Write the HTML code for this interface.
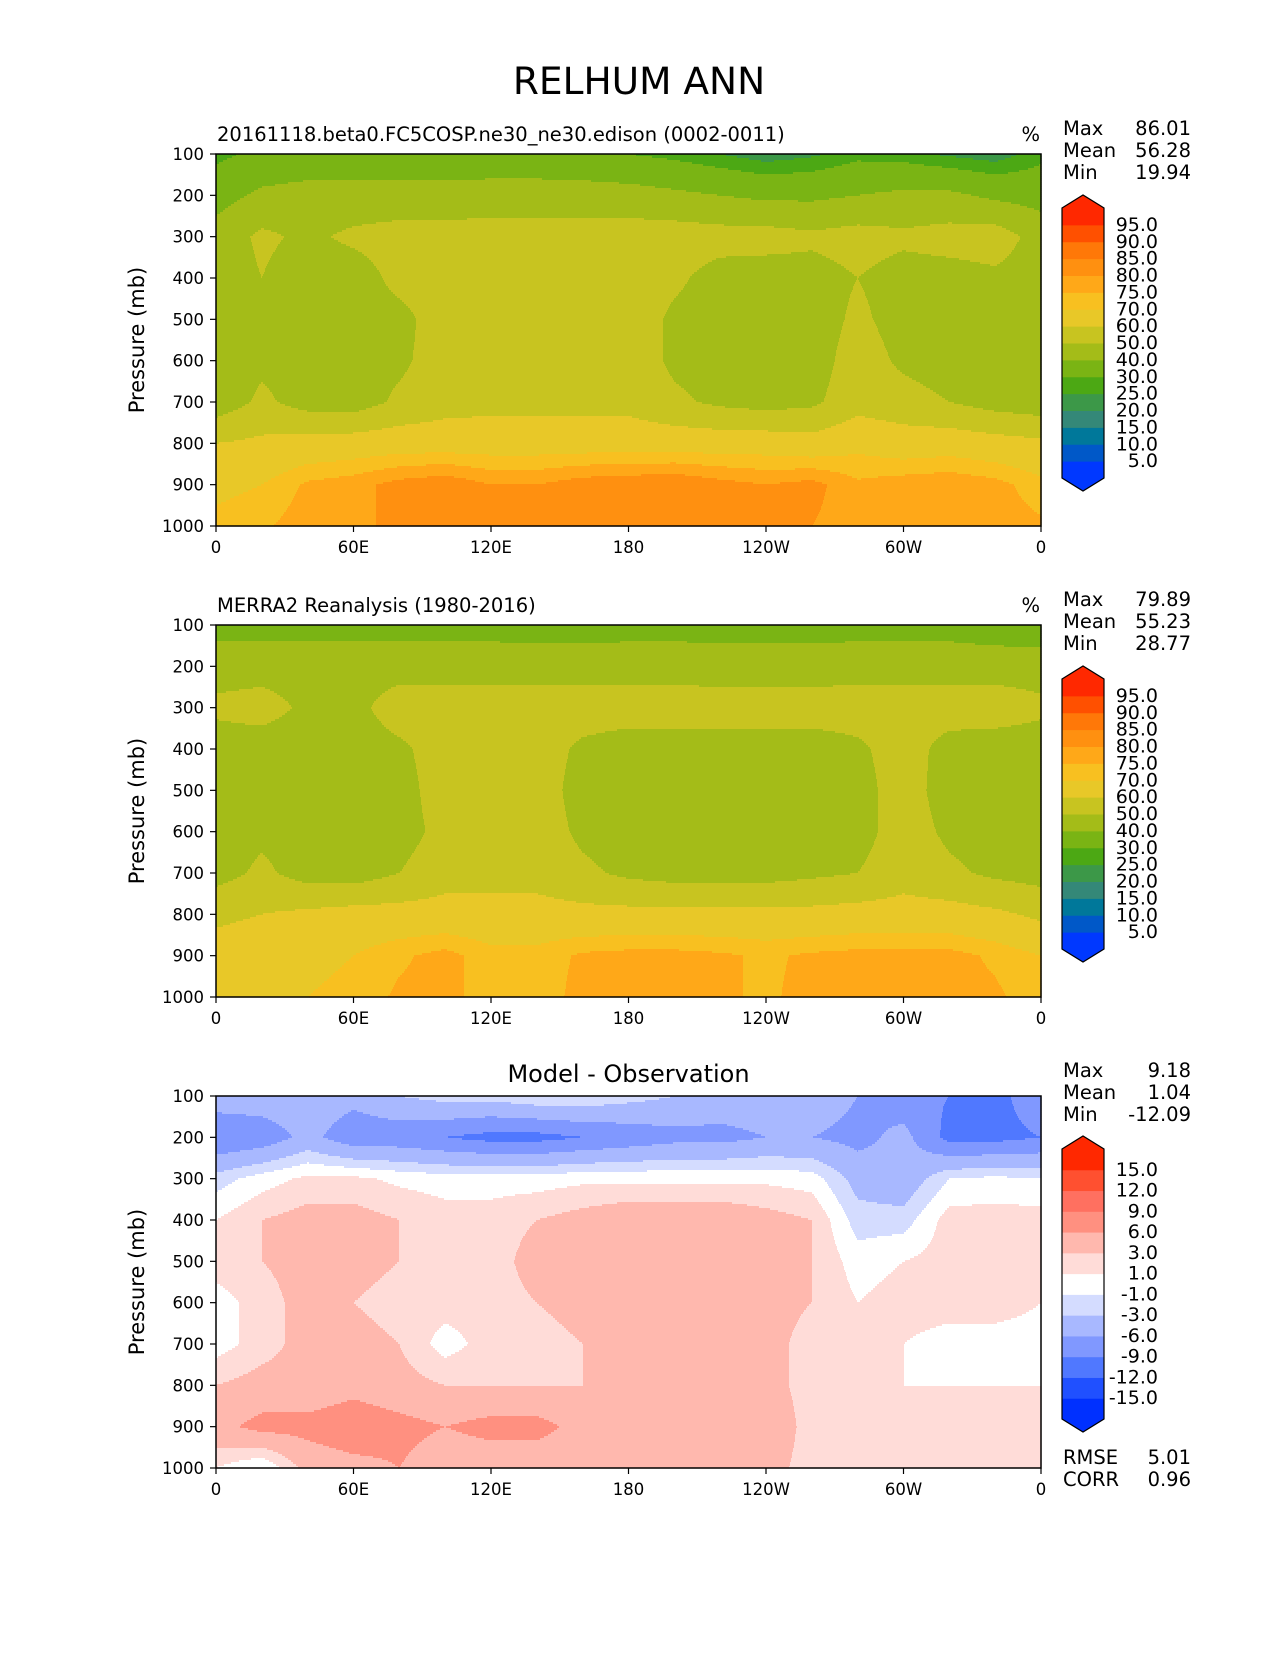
<!DOCTYPE html>
<html><head><meta charset="utf-8"><style>
body{margin:0;background:#fff;}
svg text{font-family:"DejaVu Sans","Liberation Sans",sans-serif;fill:#000;}
</style></head><body>
<svg id="fig" width="1275" height="1650" xmlns="http://www.w3.org/2000/svg">
<rect width="1275" height="1650" fill="#fff"/>
<text x="639" y="94" font-size="37.5" text-anchor="middle">RELHUM ANN</text>
</svg>
<script>
const lons=[0,20,40,60,80,100,120,140,160,180,200,220,240,260,280,300,320,340,360];
const pressures=[100,200,300,400,500,600,700,800,900,1000];
const model=[
[28,32,33,33,33,33,34,34,33,30,28,25,22,24,28,27,24,22,28],
[36,42,44,44,44,44,44,44,44,44,42,40,38,38,40,42,42,38,36],
[44,52,48,52,54,54,55,55,55,55,55,54,54,52,54,52,54,55,46],
[44,50,44,45,53,55,56,56,56,56,52,46,45,46,50,46,46,48,45],
[44,44,45,45,47,55,56,56,56,56,48,45,44,45,52,46,44,45,44],
[44,48,45,45,48,55,56,56,56,56,48,45,45,45,55,48,45,45,44],
[44,52,46,45,52,56,57,57,57,57,52,48,46,48,56,54,50,46,44],
[60,62,64,65,66,66,66,66,66,66,66,66,66,64,68,65,66,64,62],
[68,70,76,78,82,84,80,80,83,84,85,82,80,82,76,78,79,77,72],
[72,74,78,79,81,82,80,80,82,82,82,80,82,80,77,79,80,78,76]];
const obs=[
[36,36,36,36,36,36,36,35,35,36,36,36,36,36,36,36,36,34,33],
[46,46,46,46,46,46,46,46,46,46,46,45,45,45,46,46,46,46,46],
[52,54,48,47,55,55,55,55,55,55,55,55,55,55,55,55,55,55,52],
[45,45,44,45,48,55,55,55,48,45,45,45,45,45,48,55,46,45,45],
[45,45,44,44,46,55,55,55,46,45,44,42,44,45,46,55,45,45,45],
[45,48,45,45,46,53,55,55,48,45,45,44,45,45,46,55,48,45,45],
[46,52,46,45,50,56,56,56,52,48,46,46,46,48,50,56,52,48,46],
[58,60,62,64,64,64,64,64,63,63,63,63,63,63,64,64,64,62,58],
[64,66,68,70,74,77,72,72,76,77,77,76,74,76,77,77,77,74,70],
[68,68,70,72,76,77,72,72,77,77,77,76,74,77,77,77,77,76,72]];
const diff=[
[-4,-4,-4,-5,-3,-2,-2,-1,-1,-2,-3,-4,-4,-4,-6,-8,-9,-10,-7],
[-9,-8,-5,-8,-8,-9,-10,-10,-9,-8,-7,-7,-6,-6,-7,-5,-10,-10,-9],
[-2,0,1.5,1.5,0.5,0,0,0,0.5,0.5,0.5,0.5,0.5,0,-4,-5,-1,-0.5,-1],
[1,3,4,4,3,2,2,3,4,5,5,5,4,3,-2,-2,2,2,2],
[2,3,4,4,3,2,2,4,4,4,4,4,4,3,0,1,2,3,2],
[0,2,4,3,2,2,2,3,4,4,4,4,4,3,1,2,2,2,1],
[0,2,4,4,3,0,2,2,3,3,4,4,4,2,1,1,0,0,0],
[3,4,4,5,4,3,3,3,3,3,4,4,4,2,1,1,1,1,1],
[5,7,7,8,7,6,7,7,5,6,5,4,5,2,1,2,2,2,2],
[1,-1,4,5,6,4,4,4,4,4,4,4,4,2,1,3,2,2,1]];
const levels1=[5,10,15,20,25,30,40,50,60,70,75,80,85,90,95];
const colors1=['#0038ff','#0058c8','#00789a','#348878','#3c9848','#4ca814','#7ab414','#a4bc18','#c8c420','#e8c828','#f8c020','#ffa818','#ff9010','#ff7808','#ff5000','#ff2800'];
const levels3=[-15,-12,-9,-6,-3,-1,1,3,6,9,12,15];
const colors3=['#0030ff','#2050ff','#5078ff','#8098ff','#a8b8ff','#d4dcff','#ffffff','#ffdcd8','#ffb8ae','#ff9080','#ff7060','#ff5030','#ff2800'];
const xTickLons=[0,60,120,180,240,300,360];
const xTickLabels=['0','60E','120E','180','120W','60W','0'];
const yTicks=[100,200,300,400,500,600,700,800,900,1000];
const stats1=[['Max','86.01'],['Mean','56.28'],['Min','19.94']];
const stats2=[['Max','79.89'],['Mean','55.23'],['Min','28.77']];
const stats3=[['Max','9.18'],['Mean','1.04'],['Min','-12.09']];
const stats3b=[['RMSE','5.01'],['CORR','0.96']];

const NS='http://www.w3.org/2000/svg';
const fig=document.getElementById('fig');
const X0=216,X1=1041,H=372;
const FS=19.5;
function xs(l){return X0+(l-0)/360*(X1-X0);}
function mk(tag,attrs,parent){const e=document.createElementNS(NS,tag);for(const k in attrs)e.setAttribute(k,attrs[k]);(parent||fig).appendChild(e);return e;}
function txt(s,attrs,parent){const e=mk('text',attrs,parent);e.textContent=s;return e;}
function colorFor(v,levels,colors){let i=0;while(i<levels.length&&v>=levels[i])i++;return colors[i];}
function sample(grid,lon,p){
  let fi=lon/20; let i=Math.min(Math.floor(fi),lons.length-2); let tx=fi-i;
  let fj=(p-100)/100; let j=Math.min(Math.floor(fj),pressures.length-2); let ty=fj-j;
  const a=grid[j][i],b=grid[j][i+1],c=grid[j+1][i],d=grid[j+1][i+1];
  return (a*(1-tx)+b*tx)*(1-ty)+(c*(1-tx)+d*tx)*ty;
}
function panel(top,grid,levels,colors,name,cbTop,labels,sub,stats,statsTop){
  const ys=p=>top+(p-100)/900*H;
  const g=mk('g',{});
  
  
  const dy=2;
  for(let y=top;y<top+H;y+=dy){
    const p=100+(y+dy/2-top)/H*900;
    let start=X0,cur=null;
    for(let x=X0;x<=X1;x+=1){
      const c=x<X1?colorFor(sample(grid,(x+0.5-X0)/(X1-X0)*360,p),levels,colors):null;
      if(c!==cur){
        if(cur!==null){mk('rect',{x:start,y:y,width:x-start+0.6,height:dy+0.6,fill:cur},g);}
        cur=c;start=x;
      }
    }
  }
  const fr=mk('rect',{x:X0,y:top,width:X1-X0,height:H,fill:'none',stroke:'#000','stroke-width':1.5});
  
  
  yTicks.forEach(p=>{
    mk('line',{x1:X0-6,x2:X0,y1:ys(p),y2:ys(p),stroke:'#000','stroke-width':1.2});
    const t=txt(String(p),{x:X0-12,y:ys(p)+6,'font-size':16.5,'text-anchor':'end'});
    
    
  });
  xTickLons.forEach((l,k)=>{
    mk('line',{x1:xs(l),x2:xs(l),y1:top+H,y2:top+H+6,stroke:'#000','stroke-width':1.2});
    const t=txt(xTickLabels[k],{x:xs(l),y:top+H+27,'font-size':16.5,'text-anchor':'middle'});
    
    
  });
  const yt=txt('Pressure (mb)',{x:0,y:0,'font-size':21,'text-anchor':'middle',transform:`translate(144,${top+H/2}) rotate(-90)`});
  
  
  if(sub){
    if(sub.center){const t=txt(sub.text,{x:(X0+X1)/2,y:top-14,'font-size':24,'text-anchor':'middle'});}
    else{
      const t=txt(sub.text,{x:X0+1,y:top-13,'font-size':FS});
      const u=txt('%',{x:X1-1,y:top-13,'font-size':FS,'text-anchor':'end'});
    }
  }
  stats.forEach((s,k)=>{
    const a=txt(s[0],{x:1063,y:statsTop+k*22,'font-size':FS});
    const b=txt(s[1],{x:1191,y:statsTop+k*22,'font-size':FS,'text-anchor':'end'});
  });
  const cg=mk('g',{});
  
  
  const L=1062,R=1104,tri=13,rectTop=cbTop+tri,rectH=270,n=colors.length,seg=rectH/n;
  mk('polygon',{points:`${L},${rectTop} ${(L+R)/2},${cbTop} ${R},${rectTop}`,fill:colors[n-1]},cg);
  mk('polygon',{points:`${L},${rectTop+rectH} ${(L+R)/2},${rectTop+rectH+tri} ${R},${rectTop+rectH}`,fill:colors[0]},cg);
  for(let i=0;i<n;i++){mk('rect',{x:L,y:rectTop+rectH-(i+1)*seg,width:R-L,height:seg+0.5,fill:colors[i]},cg);}
  mk('polygon',{points:`${L},${rectTop} ${(L+R)/2},${cbTop} ${R},${rectTop} ${R},${rectTop+rectH} ${(L+R)/2},${rectTop+rectH+tri} ${L},${rectTop+rectH}`,fill:'none',stroke:'#000','stroke-width':1.2},cg);
  levels.forEach((lv,i)=>{
    const y=rectTop+rectH-(i+1)*seg;
    const t=txt(labels[i],{x:1158,y:y+6,'font-size':19,'text-anchor':'end'},cg);
    
    
  });
}
const lab1=levels1.map(v=>v.toFixed(1));
const lab3=levels3.map(v=>v.toFixed(1));
panel(154,model,levels1,colors1,'model-panel',195,lab1,{text:'20161118.beta0.FC5COSP.ne30_ne30.edison (0002-0011)'},stats1,135);
panel(625,obs,levels1,colors1,'obs-panel',666,lab1,{text:'MERRA2 Reanalysis (1980-2016)'},stats2,606);
panel(1096,diff,levels3,colors3,'diff-panel',1136,lab3,{text:'Model - Observation',center:true},stats3,1077);
stats3b.forEach((s,k)=>{
  const a=txt(s[0],{x:1063,y:1464+k*22,'font-size':FS});
  const b=txt(s[1],{x:1191,y:1464+k*22,'font-size':FS,'text-anchor':'end'});
});
</script>
</body></html>
